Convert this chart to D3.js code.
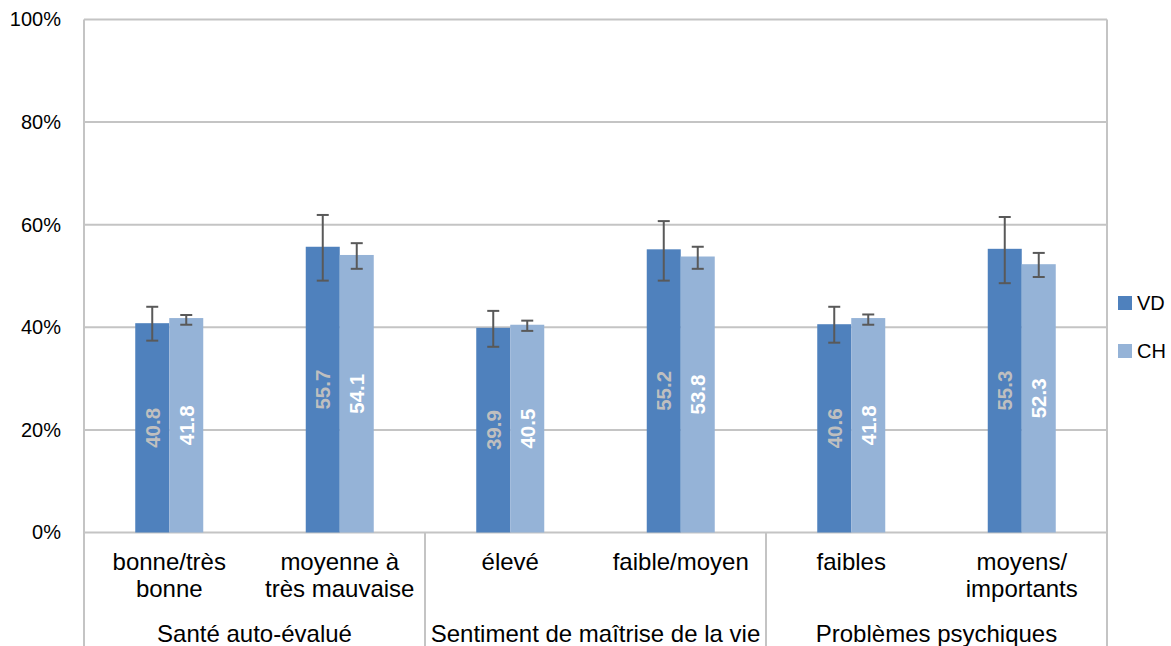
<!DOCTYPE html>
<html><head><meta charset="utf-8">
<script src="https://cdn.jsdelivr.net/npm/d3@7"></script>
<style>body{margin:0;background:#fff}svg{display:block}</style>
</head><body>
<script>
const categories = [
  ["bonne/très","bonne"], ["moyenne à","très mauvaise"],
  ["élevé"], ["faible/moyen"],
  ["faibles"], ["moyens/","importants"]
];
const groups = ["Santé auto-évalué", "Sentiment de maîtrise de la vie", "Problèmes psychiques"];
const seriesNames = ["VD", "CH"];
const vdValues = [40.8, 55.7, 39.9, 55.2, 40.6, 55.3];
const chValues = [41.8, 54.1, 40.5, 53.8, 41.8, 52.3];
const vdLow  = [37.4, 49.1, 36.2, 49.1, 37.0, 48.6];
const vdHigh = [44.0, 61.9, 43.2, 60.7, 44.0, 61.5];
const chLow  = [40.5, 51.4, 39.3, 51.4, 40.5, 49.8];
const chHigh = [42.4, 56.4, 41.3, 55.7, 42.5, 54.5];
const yTicks = [0, 20, 40, 60, 80, 100];
const colors = ["#4F81BD", "#95B3D7"];
const labelColors = ["#BFBFBF", "#FFFFFF"];

(function(){
const W = 1171, H = 646;
const pL = 84, pR = 1107, pT = 19.5, pB = 532.5;
const svg = d3.select("body").append("svg").attr("width", W).attr("height", H);
const font = "'Liberation Sans', Arial, sans-serif";

const idx = d3.range(categories.length);
const x = d3.scaleBand().domain(idx).range([pL, pR]).padding(0);
const y = d3.scaleLinear().domain([0, 100]).range([pB, pT]);
const sub = d3.scaleBand().domain([0, 1]).range([0, 68]);

svg.append("g").selectAll("line").data(yTicks).join("line")
  .attr("x1", pL).attr("x2", pR)
  .attr("y1", d => y(d)).attr("y2", d => y(d))
  .attr("stroke", "#C4C4C4").attr("stroke-width", 2);

const yAxis = d3.axisLeft(y).tickValues(yTicks).tickFormat(d => d + "%").tickSize(0).tickPadding(23);
const ya = svg.append("g").attr("transform", `translate(${pL},0)`).call(yAxis);
ya.select(".domain").remove();
ya.selectAll("text").attr("font-family", font).attr("font-size", 20).attr("fill", "#000");

const sepX = [pL, x(2), x(4), pR];
svg.append("g").selectAll("line").data(sepX).join("line")
  .attr("x1", d => d).attr("x2", d => d)
  .attr("y1", (d, i) => (i === 0 || i === 3) ? pT : pB).attr("y2", H)
  .attr("stroke", "#C4C4C4").attr("stroke-width", 2);

const series = [
  {vals: vdValues, lo: vdLow, hi: vdHigh},
  {vals: chValues, lo: chLow, hi: chHigh}
];

series.forEach((s, si) => {
  const g = svg.append("g");
  const bx = i => x(i) + x.bandwidth() / 2 - 34 + sub(si);
  g.selectAll("rect").data(idx).join("rect")
    .attr("x", i => bx(i)).attr("width", sub.bandwidth())
    .attr("y", i => y(s.vals[i])).attr("height", i => y(0) - y(s.vals[i]))
    .attr("fill", colors[si]);
  const eg = svg.append("g").attr("stroke", "#595959").attr("stroke-width", 2);
  idx.forEach(i => {
    const cx = bx(i) + sub.bandwidth() / 2;
    eg.append("line").attr("x1", cx).attr("x2", cx).attr("y1", y(s.lo[i])).attr("y2", y(s.hi[i]));
    eg.append("line").attr("x1", cx - 6).attr("x2", cx + 6).attr("y1", y(s.lo[i])).attr("y2", y(s.lo[i]));
    eg.append("line").attr("x1", cx - 6).attr("x2", cx + 6).attr("y1", y(s.hi[i])).attr("y2", y(s.hi[i]));
  });
  svg.append("g").selectAll("text").data(idx).join("text")
    .attr("transform", i => `translate(${bx(i) + sub.bandwidth() / 2},${(y(s.vals[i]) + y(0)) / 2}) rotate(-90)`)
    .attr("text-anchor", "middle").attr("dy", "0.36em")
    .attr("font-family", font).attr("font-weight", "bold").attr("font-size", 20.5)
    .attr("fill", labelColors[si])
    .text(i => s.vals[i].toFixed(1));
});

const cg = svg.append("g").attr("font-family", font).attr("font-size", 24).attr("fill", "#000").attr("text-anchor", "middle");
categories.forEach((lines, i) => {
  const t = cg.append("text").attr("x", x(i) + x.bandwidth() / 2).attr("y", 570);
  lines.forEach((ln, k) => t.append("tspan").attr("x", x(i) + x.bandwidth() / 2).attr("y", 570 + k * 27).text(ln));
});
groups.forEach((gname, gi) => {
  cg.append("text").attr("x", (x(gi * 2) + x(gi * 2 + 1) + x.bandwidth()) / 2).attr("y", 642).text(gname);
});

const lg = svg.append("g").attr("font-family", font).attr("font-size", 20);
seriesNames.forEach((n, i) => {
  const ly = 303 + i * 48;
  lg.append("rect").attr("x", 1118).attr("y", ly - 7).attr("width", 14).attr("height", 14).attr("fill", colors[i]);
  lg.append("text").attr("x", 1137).attr("y", ly).attr("dy", "0.36em").text(n);
});
})();
</script>
</body></html>
